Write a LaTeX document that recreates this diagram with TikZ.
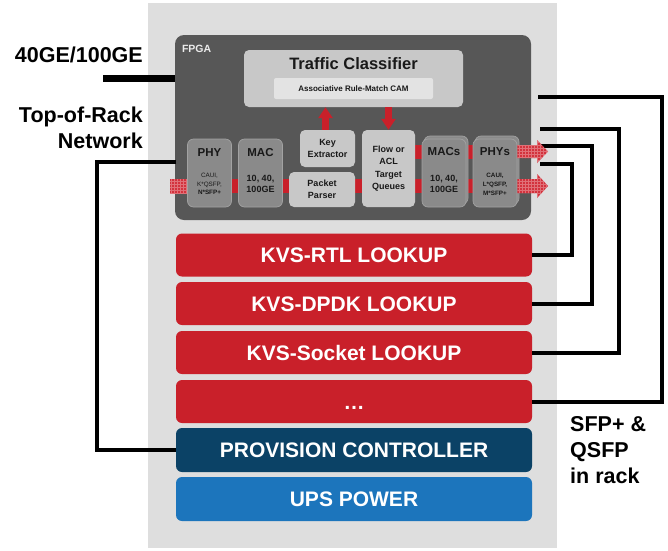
\documentclass[tikz,border=0pt]{standalone}
\usepackage{fontspec}
\setmainfont{Liberation Sans}
\usetikzlibrary{calc,patterns,arrows.meta}

\definecolor{rackbg}{HTML}{DEDEDE}
\definecolor{fpgagray}{HTML}{575757}
\definecolor{panelgray}{HTML}{C8C8C8}
\definecolor{camgray}{HTML}{E3E3E3}
\definecolor{unitgray}{HTML}{8A8A8A}
\definecolor{unitedge}{HTML}{A2A2A2}
\definecolor{kvsred}{HTML}{C9202A}
\definecolor{hatchred}{HTML}{D3323D}
\definecolor{provblue}{HTML}{0B4266}
\definecolor{upsblue}{HTML}{1C75BC}

\tikzset{
  rackbox/.style={fill=rackbg, inner sep=0pt, anchor=north west},
  fpgabox/.style={fill=fpgagray, rounded corners=9pt, inner sep=0pt},
  panelbox/.style={fill=panelgray, rounded corners=5pt, inner sep=0pt,
    align=center, text=black!90, font=\fontsize{9}{12}\selectfont\bfseries},
  unitbox/.style={fill=unitgray, draw=unitedge, line width=0.7pt,
    rounded corners=6pt, inner sep=0pt, minimum width=44pt, minimum height=68pt},
  unittitle/.style={inner sep=0pt, anchor=base, text=black!90,
    font=\fontsize{11.5}{13}\selectfont\bfseries},
  unitnote/.style={inner sep=0pt, anchor=north, align=center, text=black!90,
    font=\fontsize{9}{11}\selectfont\bfseries},
  unitsmall/.style={inner sep=0pt, anchor=north, align=center, text=black!90,
    font=\fontsize{6.3}{8.5}\selectfont},
  stackbar/.style={rounded corners=6pt, inner sep=0pt, minimum width=356pt,
    minimum height=43pt, text=white, font=\fontsize{21}{25}\selectfont\bfseries,
    text height=15pt, text depth=0pt},
  sidetext/.style={inner sep=0pt, text=black, font=\fontsize{21.5}{26}\selectfont\bfseries},
  wire/.style={line width=4pt, black},
  band/.style={line width=14pt, kvsred},
  hatch/.style={fill=hatchred, postaction={pattern=grid, pattern color=white!30!hatchred}},
  redarrow/.style={line width=7pt, kvsred, -{Triangle[width=14pt,length=11pt]}},
}

\begin{document}
\begin{tikzpicture}[x=1pt,y=-1pt]
\useasboundingbox (0,0) rectangle (668,550);

% rack enclosure
\node[rackbox, minimum width=409pt, minimum height=545pt] (rack) at (148,3) {};

% stack of lookup engines and services
\node[stackbar, fill=kvsred] (rtl) at (354,255) {KVS-RTL LOOKUP};
\node[stackbar, fill=kvsred] (dpdk) at (354,303.5) {KVS-DPDK LOOKUP};
\node[stackbar, fill=kvsred] (sock) at (354,352.5) {KVS-Socket LOOKUP};
\node[stackbar, fill=kvsred] (dots) at (354,401.5) {…};
\node[stackbar, fill=provblue, minimum height=44pt] (prov) at (354,450) {PROVISION CONTROLLER};
\node[stackbar, fill=upsblue, minimum height=44pt] (ups) at (354,499) {UPS POWER};

% FPGA
\node[fpgabox, minimum width=356pt, minimum height=185pt] (fpga) at (353,127.5) {};
\node[inner sep=0pt, anchor=base west, text=white!92!black,
  font=\fontsize{10.5}{12}\selectfont\bfseries] (fpgalabel)
  at ($(fpga.north west)+(7,18)$) {FPGA};

% rack cabling
\coordinate (ge) at (103,78);
\draw[line width=7pt] (ge) -- (ge -| fpga.west);
\coordinate (tor) at (176,162);
\draw[wire] (tor) -| ([xshift=-79pt]prov.west) -- (prov.west);
\coordinate (o1) at (538,97);
\coordinate (o2) at (540,129);
\coordinate (o3) at (540,146);
\coordinate (o4) at (540,164);
\draw[wire] (o1) -| ([xshift=130pt]dots.east) -- (dots.east);
\draw[wire] (o2) -| ([xshift=87pt]sock.east) -- (sock.east);
\draw[wire] (o3) -| ([xshift=60pt]dpdk.east) -- (dpdk.east);
\draw[wire] (o4) -| ([xshift=40pt]rtl.east) -- (rtl.east);

% traffic classifier
\node[fill=panelgray, rounded corners=5pt, inner sep=0pt,
  minimum width=219pt, minimum height=57pt] (tc) at (353.5,78.5) {};
\node[inner sep=0pt, anchor=base, text=black!90,
  font=\fontsize{16.5}{18}\selectfont\bfseries] (tctitle)
  at ($(tc.north)+(0,20)$) {Traffic Classifier};
\node[fill=camgray, rounded corners=2pt, inner sep=0pt, text=black!90,
  minimum width=159pt, minimum height=21pt,
  font=\fontsize{8}{10}\selectfont\bfseries] (cam) at (353.5,88.5)
  {Associative Rule-Match CAM};

% packet path bands (behind the units)
\coordinate (phycore) at (209.5,173);
\coordinate (physcore) at (495,173);
\draw[band] ($(phycore)+(0,13)$) -- ($(physcore)+(0,13)$);
\draw[band] ($(physcore)+(-90,-21.5)$) -- ($(physcore)+(0,-21.5)$);

% processing units
\node[unitbox] (phy) at (phycore) {};
\node[unitbox] (mac) at (260.5,173) {};
\node[panelbox, minimum width=55pt, minimum height=37pt] (key) at (327.5,148.5) {Key\\Extractor};
\node[panelbox, minimum width=66pt, minimum height=35pt] (parser) at (322,189.5) {Packet\\Parser};
\node[panelbox, minimum width=53pt, minimum height=77pt,
  font=\fontsize{9}{12.4}\selectfont\bfseries] (flow) at (388.5,168.5) {Flow or\\ACL\\Target\\Queues};
\node[unitbox] (macsback) at (446,170) {};
\node[unitbox] (macs) at (444,173) {};
\node[unitbox] (physback) at (497,170) {};
\node[unitbox] (phys) at (physcore) {};

\node[unittitle] (phyt) at ($(phy.center)+(0,-17)$) {PHY};
\node[unitsmall] (phyn) at ($(phy.center)+(0,0)$) {CAUI,\\K*QSFP,\\\textbf{N*SFP+}};
\node[unittitle] (mact) at ($(mac.center)+(0,-17)$) {MAC};
\node[unitnote] (macn) at ($(mac.center)+(0,2.5)$) {10, 40,\\100GE};
\node[unittitle] (macst) at ($(macs.center)+(0,-18)$) {MACs};
\node[unitnote] (macsn) at ($(macs.center)+(0,2.5)$) {10, 40,\\100GE};
\node[unittitle] (physt) at ($(phys.center)+(0,-18)$) {PHYs};
\node[unitsmall, font=\fontsize{6.3}{9}\selectfont\bfseries] (physn)
  at ($(phys.center)+(0,0)$) {CAUI,\\L*QSFP,\\M*SFP+};

% classifier lookups
\draw[redarrow] ([xshift=-2pt]key.north) -- ([xshift=-2pt]key.north |- tc.south);
\draw[redarrow] (flow.north |- tc.south) -- (flow.north);

% line-side ports
\path[hatch] (170,179) rectangle (phy.west |- 0,193);
\path[hatch] (phys.east |- 0,145) -- (537,145) -- (537,140) -- (548,151.5)
  -- (537,163) -- (537,158) -- (phys.east |- 0,158) -- cycle;
\path[hatch] (phys.east |- 0,179) -- (537,179) -- (537,174) -- (548,186)
  -- (537,198) -- (537,193) -- (phys.east |- 0,193) -- cycle;

% side labels
\node[sidetext, anchor=base east] (gelabel) at (143,62) {40GE/100GE};
\node[sidetext, align=right, anchor=north east] (torlabel) at (143,106.5) {Top-of-Rack\\Network};
\node[sidetext, align=left, anchor=north west] (sfplabel) at (570,416) {SFP+ \&\\QSFP\\in rack};
\end{tikzpicture}
\end{document}
